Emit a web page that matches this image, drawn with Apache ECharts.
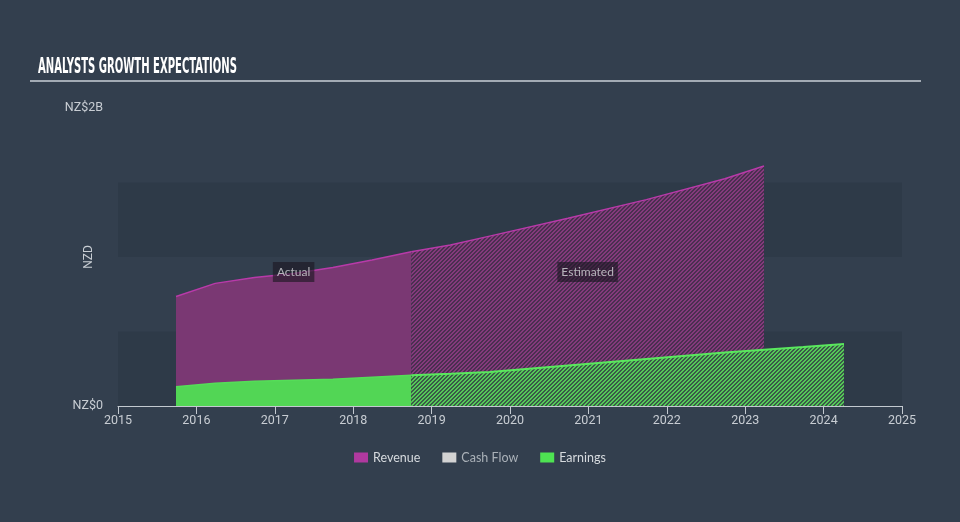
<!DOCTYPE html>
<html><head><meta charset="utf-8">
<script src="https://cdn.jsdelivr.net/npm/echarts@6/dist/echarts.min.js"></script>
<style>html,body{margin:0;padding:0;background:#333f4e;}#c{width:960px;height:522px;}</style>
</head><body><div id="c"></div>
<script>
// ---- data (years as decimal, values in NZ$ billions) ----
const revenueActual = [[2015.74,0.735],[2016.24,0.823],[2016.74,0.862],[2017.24,0.89],[2017.74,0.93],[2018.24,0.98],[2018.74,1.035]];
const revenueEstimated = [[2018.74,1.035],[2019.24,1.08],[2019.74,1.14],[2020.74,1.26],[2021.74,1.385],[2022.74,1.525],[2023.24,1.611]];
const earningsActual = [[2015.74,0.13],[2016.24,0.152],[2016.74,0.166],[2017.24,0.173],[2017.74,0.179],[2018.24,0.193],[2018.74,0.207]];
const earningsEstimated = [[2018.74,0.207],[2019.24,0.216],[2019.74,0.228],[2020.74,0.272],[2021.74,0.315],[2022.74,0.359],[2023.74,0.396],[2024.26,0.416]];
const cashFlow = [];
const periodLabels = [[2017.24,0.9,'Actual'],[2020.99,0.9,'Estimated']];
const legendNames = ['Revenue','Cash Flow','Earnings'];
const yTickLabels = {0:'NZ$0', 2:'NZ$2B'};

function hatch(fg, bg){
  const c = document.createElement('canvas'); c.width = 4; c.height = 4;
  const ctx = c.getContext('2d');
  for (let x=0;x<4;x++) for (let y=0;y<4;y++){
    ctx.fillStyle = ((x+y)%4 < 2) ? fg : bg;
    ctx.fillRect(x,y,1,1);
  }
  return {image:c, repeat:'repeat'};
}

// title compression
const titleText = 'ANALYSTS GROWTH EXPECTATIONS';
const titleFont = 'bold 21px "Liberation Sans Narrow", "DejaVu Sans Condensed", sans-serif';
const mc = document.createElement('canvas').getContext('2d');
mc.font = titleFont;
const tw = mc.measureText(titleText).width;
const sx = 199 / tw;

const chart = echarts.init(document.getElementById('c'));
chart.setOption({
  backgroundColor:'#333f4e',
  animation:false,
  graphic:[
    {type:'text', left:38, top:57, scaleX:sx, style:{text:titleText, fill:'#ffffff', font:titleFont}},
    {type:'line', shape:{x1:30,y1:81,x2:921,y2:81}, style:{stroke:'#a3abb4', lineWidth:2}}
  ],
  grid:{left:118, right:58, top:108, bottom:116},
  legend:{
    top:446, left:'center', icon:'rect', itemWidth:14, itemHeight:10, itemGap:22,
    textStyle:{color:'#d6dade', fontSize:12.5, fontFamily:'Lato'},
    data:[{name:legendNames[0]},{name:legendNames[1], textStyle:{color:'#aab1b8'}},{name:legendNames[2]}]
  },
  xAxis:{
    type:'value', min:2015, max:2025, interval:1,
    axisLine:{show:true, lineStyle:{color:'#c3c9d0', width:1}},
    axisTick:{show:true, length:8, lineStyle:{color:'#c3c9d0'}},
    axisLabel:{color:'#c8cdd3', fontSize:12.5, fontFamily:'Roboto', margin:8, formatter:v=>String(v)},
    splitLine:{show:false}
  },
  yAxis:{
    type:'value', min:0, max:2, interval:0.5,
    name:'NZD', nameLocation:'middle', nameGap:23, nameRotate:90, nameMoveOverlap:false,
    nameTextStyle:{color:'#c8cdd3', fontSize:12, fontFamily:'Roboto'},
    axisLine:{show:false}, axisTick:{show:false},
    axisLabel:{color:'#c8cdd3', fontSize:12.5, fontFamily:'Roboto', margin:15,
      formatter:v=> (yTickLabels[v] !== undefined ? yTickLabels[v] : '')},
    splitLine:{show:false},
    splitArea:{show:true, areaStyle:{color:['#2e3a48','rgba(0,0,0,0)']}}
  },
  series:[
    {name:'Revenue', type:'line', data:revenueActual, showSymbol:false, symbol:'none',
      itemStyle:{color:'#b0399f'}, lineStyle:{color:'#b83aa9', width:1.5},
      areaStyle:{color:'#7a3873', opacity:1}},
    {name:'Revenue', type:'line', data:revenueEstimated, showSymbol:false, symbol:'none',
      itemStyle:{color:'#b0399f'}, lineStyle:{color:'#b83aa9', width:1.5},
      areaStyle:{color:hatch('#843a7c','#4a2f50'), opacity:1}},
    {name:'Cash Flow', type:'line', data:cashFlow, itemStyle:{color:'#d3d3d3'}},
    {name:'Earnings', type:'line', data:earningsActual, showSymbol:false, symbol:'none',
      itemStyle:{color:'#4ee352'}, lineStyle:{color:'#55dd58', width:1.5},
      areaStyle:{color:'#52d655', opacity:1}},
    {name:'Earnings', type:'line', data:earningsEstimated, showSymbol:false, symbol:'none',
      itemStyle:{color:'#4ee352'}, lineStyle:{color:'#5ae85e', width:2},
      areaStyle:{color:hatch('#55c958','#3a5a48'), opacity:1}},
    {name:'notes', type:'scatter', data:periodLabels, symbolSize:0, silent:true, z:10,
      label:{show:true, position:'inside', formatter:p=>p.data[2], color:'#d8d8dc', fontSize:12, fontFamily:'Lato',
        backgroundColor:'rgba(28,24,34,0.8)', padding:[4,4,4,4]}}
  ]
});
</script></body></html>
